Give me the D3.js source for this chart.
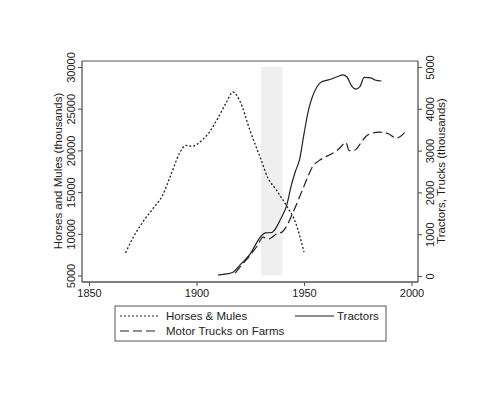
<!DOCTYPE html>
<html>
<head>
<meta charset="utf-8">
<script src="https://cdn.jsdelivr.net/npm/d3@7"></script>
<style>
  body { margin: 0; background: #fff; }
  svg { font-family: "Liberation Sans", Arial, sans-serif; }
</style>
</head>
<body>
<div id="chart"></div>
<script>
// Data
const horseYears = [1867, 1870, 1875, 1880, 1884, 1888, 1892, 1895, 1898, 1902, 1906, 1910, 1914, 1917, 1920, 1925, 1930, 1933, 1937, 1942, 1946, 1950];
const horseValues = [7700, 9300, 11400, 13100, 14500, 17000, 19600, 20600, 20500, 21100, 22200, 23900, 25800, 27000, 26000, 22300, 18900, 16800, 15300, 13300, 11400, 7800];

const tractorYears = [1910, 1914, 1917, 1920, 1925, 1930, 1932, 1935, 1937, 1939, 1942, 1944, 1946, 1948, 1950, 1952, 1954, 1956, 1958, 1962, 1966, 1968, 1970, 1972, 1974, 1976, 1978, 1981, 1983, 1986];
const tractorValues = [20, 50, 90, 250, 530, 950, 1030, 1040, 1150, 1350, 1700, 2150, 2500, 2800, 3400, 3950, 4300, 4520, 4640, 4700, 4780, 4810, 4760, 4560, 4470, 4530, 4750, 4740, 4690, 4665];

const truckYears = [1918, 1920, 1922, 1925, 1928, 1931, 1933, 1935, 1937, 1940, 1942, 1944, 1946, 1948, 1950, 1952, 1954, 1957, 1960, 1962, 1966, 1969.5, 1971, 1974, 1976, 1979, 1982, 1985, 1989, 1993, 1998];
const truckValues = [70, 200, 320, 500, 700, 930, 880, 920, 1000, 1060, 1200, 1420, 1650, 1900, 2150, 2400, 2620, 2760, 2850, 2900, 3030, 3190, 3000, 3020, 3150, 3350, 3420, 3440, 3410, 3300, 3500];

const xTicks = [1850, 1900, 1950, 2000];
const leftTicks = [5000, 10000, 15000, 20000, 25000, 30000];
const rightTicks = [0, 1000, 2000, 3000, 4000, 5000];
const shadeYears = [1930, 1940];

const w = 500, h = 394;
const box = { left: 82, right: 418, top: 61, bottom: 282 };
const ink = "#222";
const axisColor = "#555";

const svg = d3.select("#chart").append("svg")
  .attr("width", w).attr("height", h);

const x = d3.scaleLinear().domain([1850, 2000]).range([89, 411.5]);
const yL = d3.scaleLinear().domain([5000, 30000]).range([275.5, 67]);
const yR = d3.scaleLinear().domain([0, 5000]).range([276, 67]);

// shaded period
svg.append("rect")
  .attr("x", x(shadeYears[0]))
  .attr("width", x(shadeYears[1]) - x(shadeYears[0]))
  .attr("y", yL(30000))
  .attr("height", yL(5000) - yL(30000))
  .attr("fill", "#efefef");

// plot frame (top edge)
svg.append("line")
  .attr("x1", box.left).attr("x2", box.right)
  .attr("y1", box.top).attr("y2", box.top)
  .attr("stroke", axisColor).attr("stroke-width", 1.2);

// axes
function styleAxis(g) {
  g.select(".domain").remove();
  g.selectAll(".tick line").attr("stroke", axisColor).attr("stroke-width", 1.1);
  g.selectAll(".tick text").attr("fill", "#222").style("font-size", "11px");
}

const gx = svg.append("g")
  .attr("transform", `translate(0,${box.bottom})`)
  .call(d3.axisBottom(x).tickValues(xTicks).tickFormat(d3.format("d")).tickSize(4).tickPadding(3));
styleAxis(gx);

const gl = svg.append("g")
  .attr("transform", `translate(${box.left},0)`)
  .call(d3.axisLeft(yL).tickValues(leftTicks).tickFormat(d3.format("d")).tickSize(4));
styleAxis(gl);
gl.selectAll(".tick text")
  .attr("transform", "rotate(-90)")
  .attr("x", 0).attr("y", -7.5)
  .attr("dy", 0)
  .style("text-anchor", "middle");

const gr = svg.append("g")
  .attr("transform", `translate(${box.right},0)`)
  .call(d3.axisRight(yR).tickValues(rightTicks).tickFormat(d3.format("d")).tickSize(4));
styleAxis(gr);
gr.selectAll(".tick text")
  .attr("transform", "rotate(-90)")
  .attr("x", 0).attr("y", 16)
  .attr("dy", 0)
  .style("text-anchor", "middle");

// axis lines
svg.append("line").attr("x1", box.left).attr("x2", box.left).attr("y1", box.top).attr("y2", box.bottom)
  .attr("stroke", axisColor).attr("stroke-width", 1.3);
svg.append("line").attr("x1", box.right).attr("x2", box.right).attr("y1", box.top).attr("y2", box.bottom)
  .attr("stroke", axisColor).attr("stroke-width", 1.3);
svg.append("line").attr("x1", box.left).attr("x2", box.right).attr("y1", box.bottom).attr("y2", box.bottom)
  .attr("stroke", axisColor).attr("stroke-width", 1.3);

// axis titles
svg.append("text")
  .attr("transform", `translate(62,${(67 + 275) / 2}) rotate(-90)`)
  .attr("text-anchor", "middle")
  .style("font-size", "11.5px").attr("fill", "#222")
  .text("Horses and Mules (thousands)");

svg.append("text")
  .attr("transform", `translate(445,${(67 + 275) / 2}) rotate(-90)`)
  .attr("text-anchor", "middle")
  .style("font-size", "11.5px").attr("fill", "#222")
  .text("Tractors, Trucks (thousands)");

// lines
const zip = (ys, vs) => ys.map((yr, i) => ({ year: yr, value: vs[i] }));

const lineL = d3.line().x(d => x(d.year)).y(d => yL(d.value)).curve(d3.curveMonotoneX);
const lineR = d3.line().x(d => x(d.year)).y(d => yR(d.value)).curve(d3.curveMonotoneX);

svg.append("path")
  .datum(zip(horseYears, horseValues))
  .attr("d", lineL)
  .attr("fill", "none").attr("stroke", ink).attr("stroke-width", 1.3)
  .attr("stroke-dasharray", "2,2");

svg.append("path")
  .datum(zip(truckYears, truckValues))
  .attr("d", lineR)
  .attr("fill", "none").attr("stroke", ink).attr("stroke-width", 1.2)
  .attr("stroke-dasharray", "9,4");

svg.append("path")
  .datum(zip(tractorYears, tractorValues))
  .attr("d", lineR)
  .attr("fill", "none").attr("stroke", ink).attr("stroke-width", 1.2);

// legend
const legend = svg.append("g");
legend.append("rect")
  .attr("x", 115).attr("y", 306).attr("width", 271).attr("height", 35)
  .attr("fill", "#fff").attr("stroke", "#555").attr("stroke-width", 1);

const legendItems = [
  { label: "Horses & Mules", dash: "2,2", lx: 120, tx: 166, ty: 316 },
  { label: "Tractors", dash: null, lx: 295, tx: 337, ty: 316 },
  { label: "Motor Trucks on Farms", dash: "9,4", lx: 120, tx: 166, ty: 331 }
];
legendItems.forEach(it => {
  legend.append("line")
    .attr("x1", it.lx).attr("x2", it.lx + 39)
    .attr("y1", it.ty).attr("y2", it.ty)
    .attr("stroke", ink).attr("stroke-width", 1.2)
    .attr("stroke-dasharray", it.dash);
  legend.append("text")
    .attr("x", it.tx).attr("y", it.ty + 4)
    .style("font-size", "11.5px").attr("fill", "#222")
    .text(it.label);
});
</script>
</body>
</html>
